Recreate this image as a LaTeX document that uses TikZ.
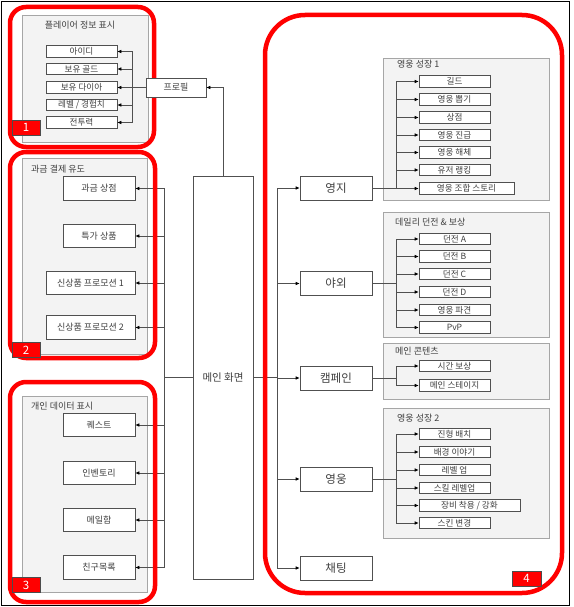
\documentclass[tikz,border=0pt]{standalone}
\usepackage{fontspec}
\setmainfont{Noto Sans CJK KR}
\usetikzlibrary{arrows.meta}
\definecolor{txt}{HTML}{404040}
\definecolor{ln}{HTML}{505050}
\definecolor{pfill}{HTML}{F3F3F3}
\definecolor{pdraw}{HTML}{A6A6A6}
\definecolor{rd}{HTML}{FF0000}
\begin{document}
\begin{tikzpicture}[x=1pt,y=-1pt,
  item/.style={draw=ln, fill=white, text=txt, font=\fontsize{8.6}{9}\selectfont, inner sep=0pt, minimum width=71pt, minimum height=11.5pt, line width=0.6pt},
  lbox/.style={draw=ln, fill=white, text=txt, font=\fontsize{9}{10}\selectfont, inner sep=0pt, minimum width=72pt, minimum height=23.5pt, line width=0.6pt},
  bigbox/.style={draw=ln, fill=white, text=txt, font=\fontsize{11.5}{12}\selectfont, inner sep=0pt, minimum width=72pt, minimum height=24pt, line width=0.6pt},
  panel/.style={draw=pdraw, fill=pfill, line width=0.6pt},
  ptitle/.style={text=txt, font=\fontsize{9}{10}\selectfont, inner sep=0pt},
  redbox/.style={draw=rd, line width=4.5pt, rounded corners=16pt},
  conn/.style={draw=ln, line width=0.6pt},
  arr/.style={conn, -{Latex[length=4pt,width=3.5pt,color=black]}},
  numbox/.style={draw=black!70, fill=rd, text=white, font=\fontsize{11.5}{12}\selectfont, inner sep=0pt, minimum width=28pt, minimum height=15pt, line width=0.6pt}
]
\useasboundingbox (0,0) rectangle (573,607);
\draw[black, line width=1pt] (1.5,1.5) rectangle (569,605);

% panels
\draw[panel] (22,15) rectangle (148,142);
\node[ptitle] (t1) at (80,25) {플레이어 정보 표시};
\draw[panel] (22,158) rectangle (147,354);
\node[ptitle, anchor=west] (t2) at (31,169) {과금 결제 유도};
\draw[panel] (22,396) rectangle (147,592);
\node[ptitle, anchor=west] (t3) at (31,406) {개인 데이터 표시};

\draw[panel] (383,58) rectangle (549,200);
\node[ptitle, anchor=west] (t4) at (397,64) {영웅 성장 1};
\draw[panel] (383,212) rectangle (549,337);
\node[ptitle, anchor=west] (t5) at (395,222) {데일리 던전 \& 보상};
\draw[panel] (383,343) rectangle (549,399);
\node[ptitle, anchor=west] (t6) at (395,351) {메인 콘텐츠};
\draw[panel] (383,408) rectangle (549,538);
\node[ptitle, anchor=west] (t7) at (397,418) {영웅 성장 2};

% region 1 items
\node[item] (id) at (81.5,51.5) {아이디};
\node[item] (gold) at (81.5,69) {보유 골드};
\node[item] (dia) at (81.5,87.5) {보유 다이아};
\node[item] (lvl) at (81.5,105) {레벨 / 경험치};
\node[item] (pow) at (81.5,122.5) {전투력};

% region 2 items
\node[lbox] (shop) at (99,188.5) {과금 상점};
\node[lbox] (sale) at (99,236) {특가 상품};
\node[lbox, minimum width=89pt] (promo1) at (90.5,283) {신상품 프로모션 1};
\node[lbox, minimum width=89pt] (promo2) at (90.5,327.5) {신상품 프로모션 2};

% region 3 items
\node[lbox] (quest) at (99,425) {퀘스트};
\node[lbox] (inv) at (99,473) {인벤토리};
\node[lbox] (mail) at (99,520) {메일함};
\node[lbox] (friend) at (99,567.5) {친구목록};

% main
\node[draw=ln, fill=white, text=txt, font=\fontsize{10.5}{12}\selectfont, inner sep=0pt, minimum width=60pt, minimum height=403pt, line width=0.6pt] (main) at (223,377.5) {메인 화면};

% right big boxes
\node[bigbox] (yj) at (336,188) {영지};
\node[bigbox] (yo) at (336,283.5) {야외};
\node[bigbox] (cp) at (336,378) {캠페인};
\node[bigbox] (hero) at (336,479) {영웅};
\node[bigbox] (chat) at (336,568) {채팅};

% group 1
\node[item] (g1a) at (454.5,81.5) {길드};
\node[item] (g1b) at (454.5,99.5) {영웅 뽑기};
\node[item] (g1c) at (454.5,117.5) {상점};
\node[item] (g1d) at (454.5,135) {영웅 진급};
\node[item] (g1e) at (454.5,152.5) {영웅 해체};
\node[item] (g1f) at (454.5,170) {유저 랭킹};
\node[item, minimum width=95pt] (g1g) at (466.5,188.5) {영웅 조합 스토리};

% group 2
\node[item] (g2a) at (454.5,239) {던전 A};
\node[item] (g2b) at (454.5,256.5) {던전 B};
\node[item] (g2c) at (454.5,274) {던전 C};
\node[item] (g2d) at (454.5,292) {던전 D};
\node[item] (g2e) at (454.5,310) {영웅 파견};
\node[item] (g2f) at (454.5,327.5) {PvP};

% group 3
\node[item] (g3a) at (454.5,366) {시간 보상};
\node[item] (g3b) at (454.5,385.5) {메인 스테이지};

% group 4
\node[item] (g4a) at (454.5,434) {진형 배치};
\node[item] (g4b) at (454.5,452) {배경 이야기};
\node[item] (g4c) at (454.5,470) {레벨 업};
\node[item] (g4d) at (454.5,488) {스킬 레벨업};
\node[item, minimum width=101pt] (g4e) at (469.5,505.5) {장비 착용 / 강화};
\node[item] (g4f) at (454.5,523) {스킨 변경};

% bus coordinates
\coordinate (b1) at (132,87.5);
\coordinate (lb) at (164,377.5);
\coordinate (rb) at (277,377.5);
\coordinate (s1) at (396,188);
\coordinate (s2) at (396,283.5);
\coordinate (s3) at (396,378);
\coordinate (s4) at (396,479);

% connectors left
\foreach \n in {id,gold,lvl,pow} \draw[arr] (b1) |- (\n.east);
\draw[conn] (main.west) -- (lb);
\foreach \n in {shop,sale,promo1,promo2,quest,inv,mail,friend} \draw[arr] (lb) |- (\n.east);

% connectors right
\draw[conn] (main.east) -- (rb);
\foreach \n in {yj,yo,cp,hero,chat} \draw[arr] (rb) |- (\n.west);
\draw[conn] (yj.east) -- (s1);
\foreach \n in {g1a,g1b,g1c,g1d,g1e,g1f,g1g} \draw[arr] (s1) |- (\n.west);
\draw[conn] (yo.east) -- (s2);
\foreach \n in {g2a,g2b,g2c,g2d,g2e,g2f} \draw[arr] (s2) |- (\n.west);
\draw[conn] (cp.east) -- (s3);
\foreach \n in {g3a,g3b} \draw[arr] (s3) |- (\n.west);
\draw[conn] (hero.east) -- (s4);
\foreach \n in {g4a,g4b,g4c,g4d,g4e,g4f} \draw[arr] (s4) |- (\n.west);

% red outlines
\draw[redbox] (10,7) rectangle (154,147);
\draw[redbox] (10,152) rectangle (155,358);
\draw[redbox] (10,382) rectangle (155,602);
\draw[redbox, rounded corners=40pt] (265,15) rectangle (562,593);

% profile (on top of red line)
\node[draw=ln, fill=white, text=txt, font=\fontsize{9}{10}\selectfont, inner sep=0pt, minimum width=60pt, minimum height=19pt, line width=0.6pt] (prof) at (176,87.5) {프로필};
\draw[arr] (main.north) |- (prof.east);
\draw[arr] (prof.west) -- (dia.east);
\draw[conn] (b1) -- (prof.west);

% number labels
\node[numbox] (n1) at (26,127.5) {1};
\node[numbox] (n2) at (26,350) {2};
\node[numbox] (n3) at (26,585) {3};
\node[numbox, minimum width=29pt] (n4) at (526.5,578.5) {4};
\end{tikzpicture}
\end{document}
